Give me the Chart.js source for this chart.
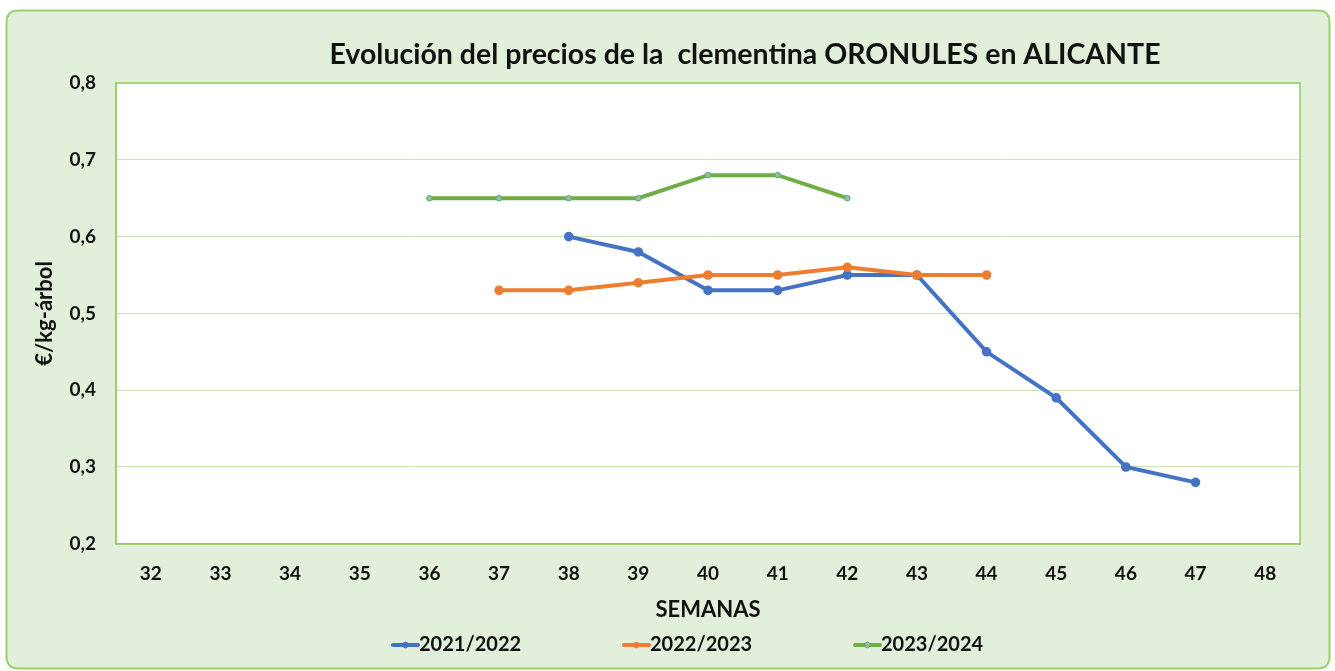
<!DOCTYPE html>
<html>
<head>
<meta charset="utf-8">
<script src="https://cdn.jsdelivr.net/npm/chart.js@4.4.1/dist/chart.umd.min.js"></script>
<style>
  html, body { margin: 0; padding: 0; background: #ffffff; }
  #wrap { width: 1335px; height: 671px; }
</style>
</head>
<body>
<div id="wrap"><canvas id="c" width="1335" height="671"></canvas></div>
<script>
const weeks = ['32','33','34','35','36','37','38','39','40','41','42','43','44','45','46','47','48'];
const s2122 = [null,null,null,null,null,null,0.60,0.58,0.53,0.53,0.55,0.55,0.45,0.39,0.30,0.28,null];
const s2223 = [null,null,null,null,null,0.53,0.53,0.54,0.55,0.55,0.56,0.55,0.55,null,null,null,null];
const s2324 = [null,null,null,null,0.65,0.65,0.65,0.65,0.68,0.68,0.65,null,null,null,null,null,null];
const seriesNames = ['2021/2022','2022/2023','2023/2024'];
const yTicks = { min: 0.2, max: 0.8, step: 0.1 };
const titleText = 'Evolución del precios de la  clementina ORONULES en ALICANTE';
const yTitle = '€/kg-árbol';
const xTitle = 'SEMANAS';

const FONT = 'Lato, "Open Sans", sans-serif';

const framePlugin = {
  id: 'frame',
  beforeDraw(chart) {
    const ctx = chart.ctx;
    ctx.save();
    const x = 6.5, y = 10.5, w = 1323, h = 658, r = 12;
    ctx.beginPath();
    ctx.moveTo(x + r, y);
    ctx.lineTo(x + w - r, y);
    ctx.quadraticCurveTo(x + w, y, x + w, y + r);
    ctx.lineTo(x + w, y + h - r);
    ctx.quadraticCurveTo(x + w, y + h, x + w - r, y + h);
    ctx.lineTo(x + r, y + h);
    ctx.quadraticCurveTo(x, y + h, x, y + h - r);
    ctx.lineTo(x, y + r);
    ctx.quadraticCurveTo(x, y, x + r, y);
    ctx.closePath();
    ctx.fillStyle = '#e2efda';
    ctx.fill();
    ctx.lineWidth = 2;
    ctx.strokeStyle = '#9bd16c';
    ctx.stroke();
    const a = chart.chartArea;
    ctx.fillStyle = '#ffffff';
    ctx.fillRect(a.left, a.top, a.right - a.left, a.bottom - a.top);
    ctx.restore();
  },
  beforeDatasetsDraw(chart) {
    const ctx = chart.ctx;
    const a = chart.chartArea;
    ctx.save();
    ctx.strokeStyle = '#92cf5f';
    ctx.lineWidth = 1.5;
    ctx.strokeRect(a.left, a.top, a.right - a.left, a.bottom - a.top);
    ctx.restore();
  },
  afterDraw(chart) {
    const ctx = chart.ctx;
    ctx.save();
    // title
    ctx.fillStyle = '#111111';
    ctx.font = 'bold 28.5px ' + FONT;
    ctx.textAlign = 'center';
    ctx.textBaseline = 'middle';
    ctx.fillText(titleText, 745, 55);
    // legend
    ctx.font = 'bold 20px ' + FONT;
    ctx.textAlign = 'left';
    const startX = 393, period = 231, ly = 645;
    chart.data.datasets.forEach((ds, i) => {
      const x0 = startX + i * period;
      ctx.strokeStyle = ds.borderColor;
      ctx.lineWidth = 4;
      ctx.lineCap = 'round';
      ctx.beginPath();
      ctx.moveTo(x0, ly);
      ctx.lineTo(x0 + 25, ly);
      ctx.stroke();
      ctx.beginPath();
      ctx.arc(x0 + 12.5, ly, 2.8, 0, Math.PI * 2);
      ctx.fillStyle = ds.pointBackgroundColor;
      ctx.fill();
      ctx.lineWidth = 1;
      ctx.strokeStyle = ds.pointBorderColor;
      ctx.stroke();
      ctx.fillStyle = '#111111';
      ctx.fillText(ds.label, x0 + 26, ly);
    });
    ctx.restore();
  }
};

new Chart(document.getElementById('c'), {
  type: 'line',
  data: {
    labels: weeks,
    datasets: [
      { label: seriesNames[0], data: s2122, borderColor: '#4472c4', backgroundColor: '#4472c4',
        borderWidth: 4, pointRadius: 2.8, pointBackgroundColor: '#4472c4', pointBorderColor: '#4472c4', order: 3 },
      { label: seriesNames[1], data: s2223, borderColor: '#ed7d31', backgroundColor: '#ed7d31',
        borderWidth: 4, pointRadius: 2.8, pointBackgroundColor: '#ed7d31', pointBorderColor: '#ed7d31', order: 2 },
      { label: seriesNames[2], data: s2324, borderColor: '#70ad47', backgroundColor: '#70ad47',
        borderWidth: 4, pointRadius: 2.8, pointBackgroundColor: '#a5b8a0', pointBorderColor: '#4fb07c', pointBorderWidth: 1, order: 1 }
    ]
  },
  options: {
    responsive: false,
    animation: false,
    spanGaps: false,
    layout: { padding: { left: 25, right: 35, top: 83, bottom: 44 } },
    plugins: {
      title: { display: false },
      legend: { display: false },
      tooltip: { enabled: false }
    },
    scales: {
      x: {
        type: 'category',
        offset: true,
        grid: { display: false, drawTicks: false },
        border: { display: true, color: '#92cf5f', width: 1.5 },
        ticks: { color: '#111111', font: { family: FONT, size: 19, weight: 'bold' }, padding: 19, maxRotation: 0 },
        title: { display: true, text: xTitle, color: '#111111', font: { family: FONT, size: 22, weight: 'bold' }, padding: { top: -8, bottom: 4 } }
      },
      y: {
        min: yTicks.min, max: yTicks.max,
        grid: { color: '#c9e4b8', drawTicks: false, lineWidth: 1 },
        border: { display: true, color: '#92cf5f', width: 1.5 },
        ticks: {
          stepSize: yTicks.step, padding: 20, color: '#111111',
          font: { family: FONT, size: 19, weight: 'bold' },
          callback: v => v.toFixed(1).replace('.', ',')
        },
        title: { display: true, text: yTitle, color: '#111111', font: { family: FONT, size: 22, weight: 'bold' }, padding: { top: 7, bottom: 4 } },
        afterFit(scale) { scale.width = 91; }
      }
    }
  },
  plugins: [framePlugin]
});
</script>
</body>
</html>
